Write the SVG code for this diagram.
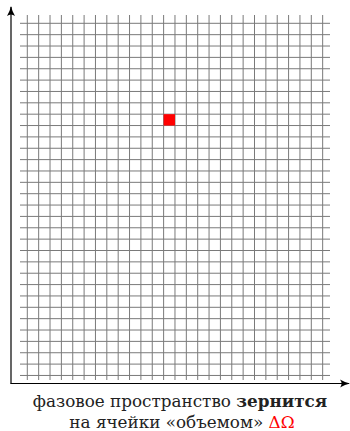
<svg xmlns="http://www.w3.org/2000/svg" width="350" height="431" viewBox="0 0 350 431">
<style>
.g{stroke:#7a7a7a;stroke-width:1;fill:none}
.ax{stroke:#000;stroke-width:1.2;fill:none}
.t{font-family:"DejaVu Serif","Liberation Serif",serif;font-size:16.8px;fill:#222}
</style>
<defs>
<marker id="arr" viewBox="0 0 10 10" refX="9" refY="5" markerWidth="10" markerHeight="10" markerUnits="userSpaceOnUse" orient="auto">
<path d="M0,1 Q5,4 10,5 Q5,6 0,9 Q3,5 0,1 Z" fill="#000"/>
</marker>
</defs>
<g id="grid-lines">
<path class="g" d="M27.3,15V380M38.66,15V380M50.02,15V380M61.38,15V380M72.74,15V380M84.1,15V380M95.46,15V380M106.82,15V380M118.18,15V380M129.54,15V380M140.9,15V380M152.26,15V380M163.62,15V380M174.98,15V380M186.34,15V380M197.7,15V380M209.06,15V380M220.42,15V380M231.78,15V380M243.14,15V380M254.5,15V380M265.86,15V380M277.22,15V380M288.58,15V380M299.94,15V380M311.3,15V380M322.66,15V380"/>
<path class="g" d="M20,23.3H330M20,34.66H330M20,46.02H330M20,57.38H330M20,68.74H330M20,80.1H330M20,91.46H330M20,102.82H330M20,114.18H330M20,125.54H330M20,136.9H330M20,148.26H330M20,159.62H330M20,170.98H330M20,182.34H330M20,193.7H330M20,205.06H330M20,216.42H330M20,227.78H330M20,239.14H330M20,250.5H330M20,261.86H330M20,273.22H330M20,284.58H330M20,295.94H330M20,307.3H330M20,318.66H330M20,330.02H330M20,341.38H330M20,352.74H330M20,364.1H330M20,375.46H330"/>
</g>
<g id="cell">
<rect x="163.62" y="114.18" width="11.36" height="11.36" fill="#ff0000"/>
</g>
<g id="connectors">
<line class="ax" x1="11" y1="383.5" x2="11" y2="7" marker-end="url(#arr)"/>
<line class="ax" x1="10.4" y1="383.5" x2="349" y2="383.5" marker-end="url(#arr)"/>
</g>
<g id="caption">
<text class="t" x="180" y="407" text-anchor="middle">фазовое пространство <tspan font-weight="bold">зернится</tspan></text>
<text class="t" x="182" y="428" text-anchor="middle">на ячейки «объемом» <tspan fill="#ff0000">ΔΩ</tspan></text>
</g>
</svg>
